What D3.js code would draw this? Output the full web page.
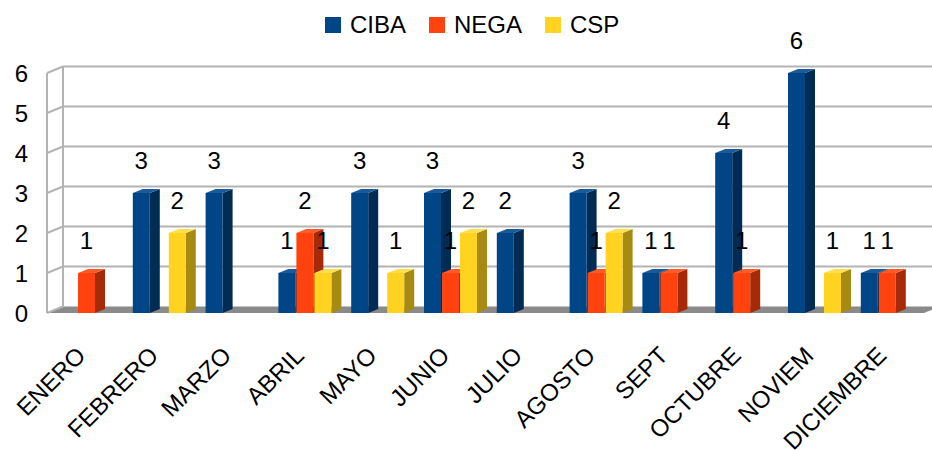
<!DOCTYPE html>
<html><head><meta charset="utf-8">
<script src="https://cdn.jsdelivr.net/npm/d3@7/dist/d3.min.js"></script>
<style>body{margin:0;background:#fff}svg{display:block;font-family:"Liberation Sans",Arial,sans-serif}</style>
</head><body><div id="chart"></div>
<script>
const categories = ["ENERO","FEBRERO","MARZO","ABRIL","MAYO","JUNIO","JULIO","AGOSTO","SEPT","OCTUBRE","NOVIEM","DICIEMBRE"];
const seriesNames = ["CIBA","NEGA","CSP"];
const ciba = [null,3,3,1,3,3,2,3,1,4,6,1];
const nega = [1,null,null,2,null,1,null,1,1,1,null,1];
const csp  = [null,2,null,1,1,2,null,2,null,null,1,null];
const yTicks = [0,1,2,3,4,5,6];
const colors = {CIBA:["#004586","#002b55","#1a5a9a"], NEGA:["#ff420e","#a62a08","#ff5a2a"], CSP:["#ffd320","#a68a12","#ffdf50"]};

const W=932,H=450;
const svg=d3.select("#chart").append("svg").attr("width",W).attr("height",H);
const values={CIBA:ciba,NEGA:nega,CSP:csp};

const dX=16, dY=-6.5;      // wall depth
const bX=10, bY=-4;        // bar depth
const y=d3.scaleLinear().domain([0,6]).range([313,73]);
const x=d3.scaleBand().domain(categories).range([50.6,924.2]).paddingInner(0);
const xs=d3.scaleBand().domain(seriesNames).range([0,54]);
const grid="#b3b3b3";

// floor
svg.append("path").attr("d",`M47,${y(0)}L924,${y(0)}L${924+dX},${y(0)+dY}L${47+dX},${y(0)+dY}Z`).attr("fill","#8a8a8a");
// back wall gridlines
yTicks.forEach(v=>{
  if(v>0) svg.append("line").attr("x1",47+dX).attr("x2",W).attr("y1",y(v)+dY).attr("y2",y(v)+dY).attr("stroke",grid).attr("stroke-width",2);
  svg.append("line").attr("x1",47).attr("x2",47+dX).attr("y1",y(v)).attr("y2",y(v)+dY).attr("stroke",grid).attr("stroke-width",2);
});
svg.append("line").attr("x1",47+dX).attr("x2",47+dX).attr("y1",y(6)+dY).attr("y2",y(0)+dY).attr("stroke",grid).attr("stroke-width",2);
svg.append("line").attr("x1",47).attr("x2",47).attr("y1",y(6)).attr("y2",y(0)).attr("stroke",grid).attr("stroke-width",2);

// tick labels
svg.selectAll(".yt").data(yTicks).enter().append("text")
  .attr("x",28).attr("y",d=>y(d)+9).attr("text-anchor","end").attr("font-size",24).attr("fill","#000").text(d=>d);

// bars
const bw=17;
categories.forEach((c,i)=>{
  seriesNames.forEach(s=>{
    const v=values[s][i]; if(v==null) return;
    const x0=x(c)+x.bandwidth()/2-27+xs(s), yt=y(v), yb=y(0);
    const col=colors[s];
    const g=svg.append("g");
    g.append("path").attr("d",`M${x0+bw},${yb}L${x0+bw+bX},${yb+bY}L${x0+bw+bX},${yt+bY}L${x0+bw},${yt}Z`).attr("fill",col[1]);
    g.append("path").attr("d",`M${x0},${yt}L${x0+bX},${yt+bY}L${x0+bw+bX},${yt+bY}L${x0+bw},${yt}Z`).attr("fill",col[2]);
    g.append("rect").attr("x",x0).attr("y",yt).attr("width",bw).attr("height",yb-yt).attr("fill",col[0]);
  });
});
// value labels
categories.forEach((c,i)=>{
  seriesNames.forEach(s=>{
    const v=values[s][i]; if(v==null) return;
    const x0=x(c)+x.bandwidth()/2-27+xs(s);
    svg.append("text").attr("x",x0+bw/2).attr("y",y(v)-33+9).attr("text-anchor","middle").attr("font-size",24).attr("fill","#000").text(v);
  });
});

// x labels
svg.selectAll(".xl").data(categories).enter().append("text")
  .attr("transform",d=>`translate(${x(d)+x.bandwidth()/2},357) rotate(-45)`)
  .attr("text-anchor","end").attr("font-size",24).attr("fill","#000").text(d=>d);

// legend
const legX=[325,429,545];
seriesNames.forEach((s,i)=>{
  svg.append("rect").attr("x",legX[i]).attr("y",17).attr("width",16).attr("height",16).attr("fill",colors[s][0]);
  svg.append("text").attr("x",legX[i]+25).attr("y",33).attr("font-size",24).attr("fill","#000").text(s);
});
</script></body></html>
